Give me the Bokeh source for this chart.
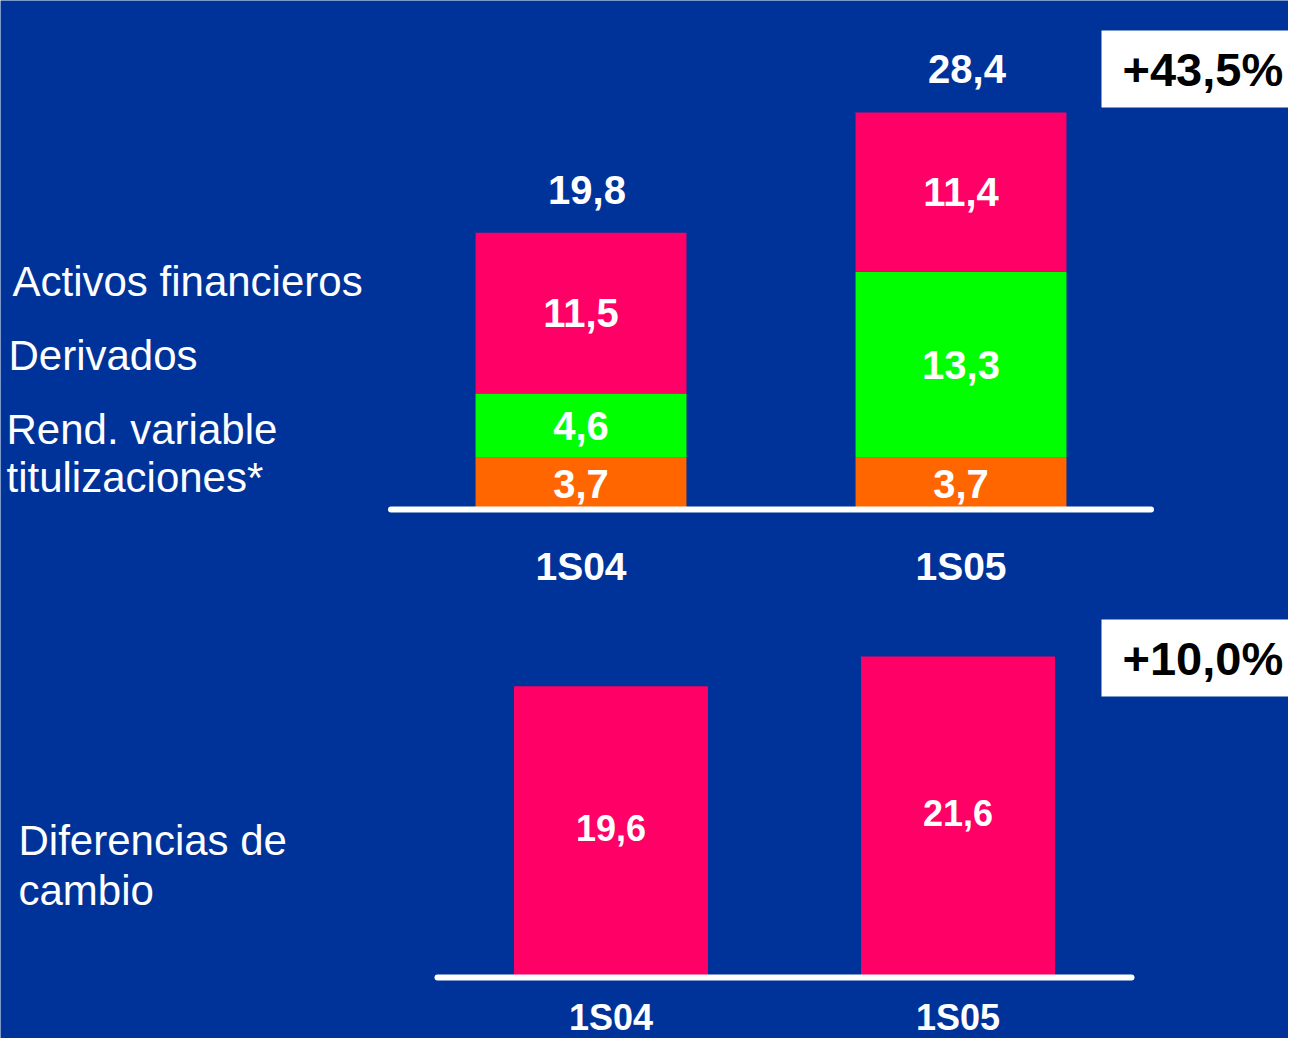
from bokeh.plotting import figure
from bokeh.models import Range1d, Label, ColumnDataSource
from bokeh.core.properties import value
from bokeh.embed import file_html
from bokeh.resources import INLINE

# ---------------- data ----------------
periods = ["1S04", "1S05"]
rend_variable = [3.7, 3.7]      # Rend. variable titulizaciones*
derivados = [4.6, 13.3]         # Derivados
activos = [11.5, 11.4]          # Activos financieros
totals = [19.8, 28.4]
growth_top = "+43,5%"

dif_cambio = [19.6, 21.6]       # Diferencias de cambio
growth_bottom = "+10,0%"

top_legend_lines = ["Activos financieros", "Derivados", "Rend. variable", "titulizaciones*"]
bottom_legend_lines = ["Diferencias de", "cambio"]

# ---------------- style ----------------
BG = "#003399"
PINK = "#FF0066"
GREEN = "#00FF00"
ORANGE = "#FF6600"
FONT = "Liberation Sans"

# ---------------- layout (page pixel geometry) ----------------
M = 8                      # page margin
W, H = 1288, 1038
X0, X1 = M, M + W          # page x of canvas edges
Y0, Y1 = M, M + H          # page y of canvas edges

# top chart: category centre / spacing in page px, value zero / px per unit
T_C0, T_STEP = 588.5, 380.0
T_ZERO, T_SCALE = 517.0, 13.98
# bottom chart
B_C0, B_STEP = 618.5, 347.0
B_ZERO, B_SCALE = 985.0, 14.86


def fmt(v):
    return f"{v:.1f}".replace(".", ",")


idx = list(range(len(periods)))
band_lo, band_hi = -0.5, len(periods) - 0.5

p = figure(
    width=W, height=H,
    x_range=Range1d((X0 - T_C0) / T_STEP, (X1 - T_C0) / T_STEP),
    y_range=Range1d(-(Y1 - T_ZERO) / T_SCALE, (T_ZERO - Y0) / T_SCALE),
    x_axis_location=None, y_axis_location=None,
    toolbar_location=None, output_backend="svg", title=None,
    min_border_left=0, min_border_right=0, min_border_top=0, min_border_bottom=0,
    background_fill_color=BG, border_fill_color=BG, outline_line_color=None,
)
p.xgrid.visible = False
p.ygrid.visible = False
p.extra_x_ranges = {
    "xb": Range1d((X0 - B_C0) / B_STEP, (X1 - B_C0) / B_STEP),
    "px": Range1d(X0, X1),
}
p.extra_y_ranges = {
    "yb": Range1d(-(Y1 - B_ZERO) / B_SCALE, (B_ZERO - Y0) / B_SCALE),
    "py": Range1d(Y1, Y0),
}

# ================= TOP CHART =================
src1 = ColumnDataSource(dict(x=idx, rend=rend_variable, der=derivados, act=activos))
p.vbar_stack(["rend", "der", "act"], x="x", width=0.555, source=src1,
             color=[ORANGE, GREEN, PINK], line_color=None)

seg_x, seg_y, seg_t = [], [], []
for i in idx:
    base = 0.0
    for vals in (rend_variable, derivados, activos):
        seg_x.append(i)
        seg_y.append(base + vals[i] / 2)
        seg_t.append(fmt(vals[i]))
        base += vals[i]
p.text(x=seg_x, y=seg_y, text=seg_t, text_font=value(FONT), text_font_style="bold",
       text_font_size="40px", text_color="white", text_align="center",
       text_baseline="middle", y_offset=0)

p.text(x=idx, y=totals, text=[fmt(t) for t in totals], text_font=value(FONT),
       text_font_style="bold", text_font_size="40px", text_color="white",
       text_align="center", text_baseline="middle", x_offset=6, y_offset=-43)

# baseline (axis line) across the category bands
p.segment(x0=[band_lo], y0=[0], x1=[band_hi], y1=[0], line_color="white",
          line_width=6, line_cap="round")

# category labels
p.text(x=idx, y=[574] * len(idx), y_range_name="py", text=periods, text_font=value(FONT),
       text_font_style="bold", text_font_size="39px", text_color="white",
       text_align="center", text_baseline="middle")

# ================= BOTTOM CHART =================
src2 = ColumnDataSource(dict(x=idx, val=dif_cambio,
                             mid=[v / 2 for v in dif_cambio],
                             lab=[fmt(v) for v in dif_cambio]))
p.vbar(x="x", top="val", width=0.559, source=src2, color=PINK, line_color=None,
       x_range_name="xb", y_range_name="yb")
p.text(x="x", y="mid", text="lab", source=src2, x_range_name="xb", y_range_name="yb",
       text_font=value(FONT), text_font_style="bold", text_font_size="36px",
       text_color="white", text_align="center", text_baseline="middle", y_offset=-4)

p.segment(x0=[band_lo], y0=[0], x1=[band_hi], y1=[0], x_range_name="xb", y_range_name="yb",
          line_color="white", line_width=6, line_cap="round")

p.text(x=idx, y=[1025] * len(idx), x_range_name="xb", y_range_name="py", text=periods,
       text_font=value(FONT), text_font_style="bold", text_font_size="36px",
       text_color="white", text_align="center", text_baseline="middle")

# ================= side texts (page px) =================
def page_label(x, y, text, **kw):
    p.add_layout(Label(x=x, y=y, x_range_name="px", y_range_name="py", text=text,
                       text_font=FONT, **kw))


for txt, yc, xl in zip(top_legend_lines, [289, 363, 437, 485], [20, 16, 14, 14]):
    page_label(xl, yc, txt, text_font_size="42px", text_color="white",
               text_baseline="middle")
for txt, yc in zip(bottom_legend_lines, [848, 898]):
    page_label(26, yc, txt, text_font_size="42px", text_color="white",
               text_baseline="middle")

for txt, yc in ((growth_top, 76.5), (growth_bottom, 665.5)):
    page_label(1109, yc, txt, text_font_size="47px", text_font_style="bold",
               text_color="black", text_baseline="middle",
               background_fill_color="white", padding=(21, 12))

open("out.html", "w").write(file_html(p, INLINE))
